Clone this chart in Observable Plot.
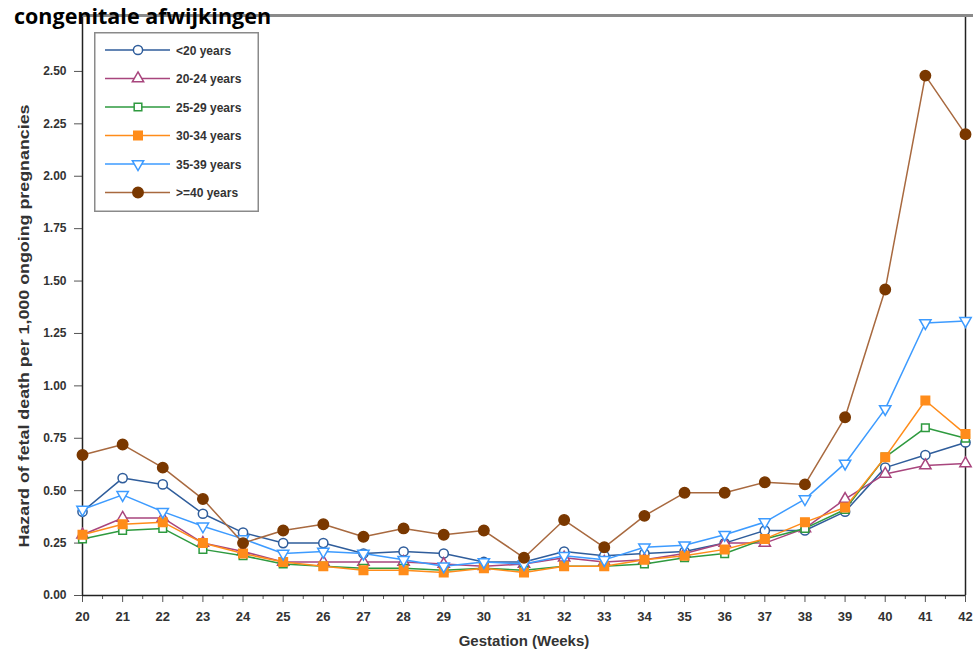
<!DOCTYPE html>
<html>
<head>
<meta charset="utf-8">
<script src="https://cdn.jsdelivr.net/npm/d3@7"></script>
<script src="https://cdn.jsdelivr.net/npm/@observablehq/plot@0.6"></script>
<style>
  html, body { margin: 0; padding: 0; background: #fff; }
  #wrap { position: relative; width: 973px; height: 651px; overflow: hidden; }
  #title { position: absolute; left: 14px; top: 1px; font-family: "Open Sans", sans-serif; font-weight: 700; font-size: 21.5px; color: #000; z-index: 3; white-space: nowrap; }
  #topline { position: absolute; left: 82px; top: 14px; width: 891px; height: 3px; background: #8a8a8a; z-index: 2; }
  #legend { position: absolute; left: 94px; top: 32px; z-index: 4; }
  #chart { position: absolute; left: 0; top: 0; }
</style>
</head>
<body>
<div id="wrap">
  <div id="chart"></div>
  <div id="topline"></div>
  <div id="title">congenitale afwijkingen</div>
  <div id="legend"></div>
</div>
<script>
const weeks = [20,21,22,23,24,25,26,27,28,29,30,31,32,33,34,35,36,37,38,39,40,41,42];
const yTicks = [0,0.25,0.5,0.75,1,1.25,1.5,1.75,2,2.25,2.5];
const xTitle = "Gestation (Weeks)";
const yTitle = "Hazard of fetal death per 1,000 ongoing pregnancies";

const seriesNames = ["<20 years","20-24 years","25-29 years","30-34 years","35-39 years",">=40 years"];
const lt20  = [0.40,0.56,0.53,0.39,0.30,0.25,0.25,0.20,0.21,0.20,0.16,0.16,0.21,0.19,0.20,0.21,0.25,0.31,0.31,0.40,0.61,0.67,0.73];
const a20_24 = [0.29,0.37,0.37,0.25,0.21,0.16,0.16,0.16,0.16,0.15,0.14,0.15,0.18,0.16,0.17,0.20,0.25,0.25,0.32,0.46,0.58,0.62,0.63];
const a25_29 = [0.27,0.31,0.32,0.22,0.19,0.15,0.14,0.13,0.13,0.12,0.13,0.12,0.14,0.14,0.15,0.18,0.20,0.27,0.32,0.41,0.66,0.80,0.75];
const a30_34 = [0.29,0.34,0.35,0.25,0.20,0.16,0.14,0.12,0.12,0.11,0.13,0.11,0.14,0.14,0.17,0.19,0.22,0.27,0.35,0.42,0.66,0.93,0.77];
const a35_39 = [0.41,0.48,0.40,0.33,0.27,0.20,0.21,0.20,0.17,0.14,0.16,0.15,0.19,0.17,0.23,0.24,0.29,0.35,0.46,0.63,0.89,1.30,1.31];
const ge40  = [0.67,0.72,0.61,0.46,0.25,0.31,0.34,0.28,0.32,0.29,0.31,0.18,0.36,0.23,0.38,0.49,0.49,0.54,0.53,0.85,1.46,2.48,2.20];
const seriesValues = [lt20, a20_24, a25_29, a30_34, a35_39, ge40];

const lineColors   = ["#2f5d9b","#a8457d","#2e9a3f","#ff8c1a","#3d9bff","#a8693f"];
const markerColors = ["#2f5d9b","#a8457d","#2e9a3f","#ff8c1a","#3d9bff","#7a3800"];
const filled = [false,false,false,true,false,true];

const triangleDown = {
  draw(ctx, size) {
    const s = Math.sqrt(size / (Math.sqrt(3) / 4));
    const h = s * Math.sqrt(3) / 2;
    ctx.moveTo(-s / 2, -h / 3);
    ctx.lineTo(s / 2, -h / 3);
    ctx.lineTo(0, 2 * h / 3);
    ctx.closePath();
  }
};
const symbols = [d3.symbolCircle, d3.symbolTriangle, d3.symbolSquare, d3.symbolSquare, triangleDown, d3.symbolCircle];
const markerR = [4.6, 4.2, 4.3, 4.8, 4.2, 5.2];

const rows = [];
seriesNames.forEach((name, i) => {
  weeks.forEach((w, j) => rows.push({series: name, idx: i, week: w, value: seriesValues[i][j]}));
});

const marks = [];
seriesNames.forEach((name, i) => {
  const data = rows.filter(d => d.idx === i);
  marks.push(Plot.line(data, {x: "week", y: "value", stroke: lineColors[i], strokeWidth: 1.5}));
  marks.push(Plot.dot(data, {
    x: "week", y: "value", symbol: () => symbols[i], r: markerR[i],
    fill: filled[i] ? markerColors[i] : "white",
    stroke: markerColors[i], strokeWidth: 1.5
  }));
});

const minorTicks = weeks.slice(0, -1).map(w => w + 0.5);

const chart = Plot.plot({
  width: 973,
  height: 651,
  marginLeft: 82,
  marginRight: 8,
  marginTop: 16,
  marginBottom: 56,
  style: {fontFamily: "'Liberation Sans', Arial, sans-serif", fontWeight: "bold", fontSize: "12px", color: "#333", background: "white"},
  x: {domain: [20, 42]},
  y: {domain: [0, 2.762]},
  symbol: {type: "identity"},
  marks: [
    Plot.axisX({ticks: minorTicks, tickSize: 4, tickFormat: () => "", label: null, stroke: "#555"}),
    Plot.axisX({ticks: weeks, tickSize: 7, tickPadding: 9, tickFormat: d => String(d), label: xTitle, labelAnchor: "center", labelArrow: "none", labelOffset: 50, fontSize: 13, stroke: "#555"}),
    Plot.axisY({ticks: yTicks, tickSize: 8, tickPadding: 8, tickFormat: d3.format(".2f"), label: null, stroke: "#555"}),
    Plot.ruleX([20, 42], {stroke: "#222", strokeWidth: 1.5}),
    Plot.ruleY([0], {stroke: "#222", strokeWidth: 1.5}),
    ...marks
  ]
});
document.getElementById("chart").appendChild(chart);

// axis titles styling
d3.select(chart).selectAll("g[aria-label='x-axis label'] text")
  .style("font-size", "15px").attr("fill", "#333");
d3.select(chart).append("text")
  .text(yTitle)
  .attr("transform", "translate(24,326) rotate(-90)")
  .attr("dy", "0.35em")
  .attr("text-anchor", "middle")
  .attr("font-family", "'Liberation Sans', Arial, sans-serif")
  .attr("font-weight", "bold")
  .attr("font-size", 15.5)
  .attr("fill", "#333")
  .attr("textLength", 443).attr("lengthAdjust", "spacingAndGlyphs");

// Legend (HTML overlay drawn with d3)
const lw = 165, lh = 180;
const lg = d3.select("#legend").append("svg").attr("width", lw).attr("height", lh);
lg.append("rect").attr("x", 0.75).attr("y", 0.75).attr("width", lw - 1.5).attr("height", lh - 1.5)
  .attr("fill", "white").attr("stroke", "#8a8a8a").attr("stroke-width", 1.5);
seriesNames.forEach((name, i) => {
  const cy = 18 + i * 28.5;
  lg.append("line").attr("x1", 11).attr("x2", 76).attr("y1", cy).attr("y2", cy)
    .attr("stroke", lineColors[i]).attr("stroke-width", 1.5);
  lg.append("path").attr("transform", `translate(44,${cy})`)
    .attr("d", d3.symbol(symbols[i], Math.PI * markerR[i] * markerR[i])())
    .attr("fill", filled[i] ? markerColors[i] : "white")
    .attr("stroke", markerColors[i]).attr("stroke-width", 1.5);
  lg.append("text").attr("x", 82).attr("y", cy + 4.5).text(name)
    .attr("font-family", "'Liberation Sans', Arial, sans-serif").attr("font-weight", "bold")
    .attr("font-size", 12).attr("fill", "#333");
});
</script>
</body>
</html>
